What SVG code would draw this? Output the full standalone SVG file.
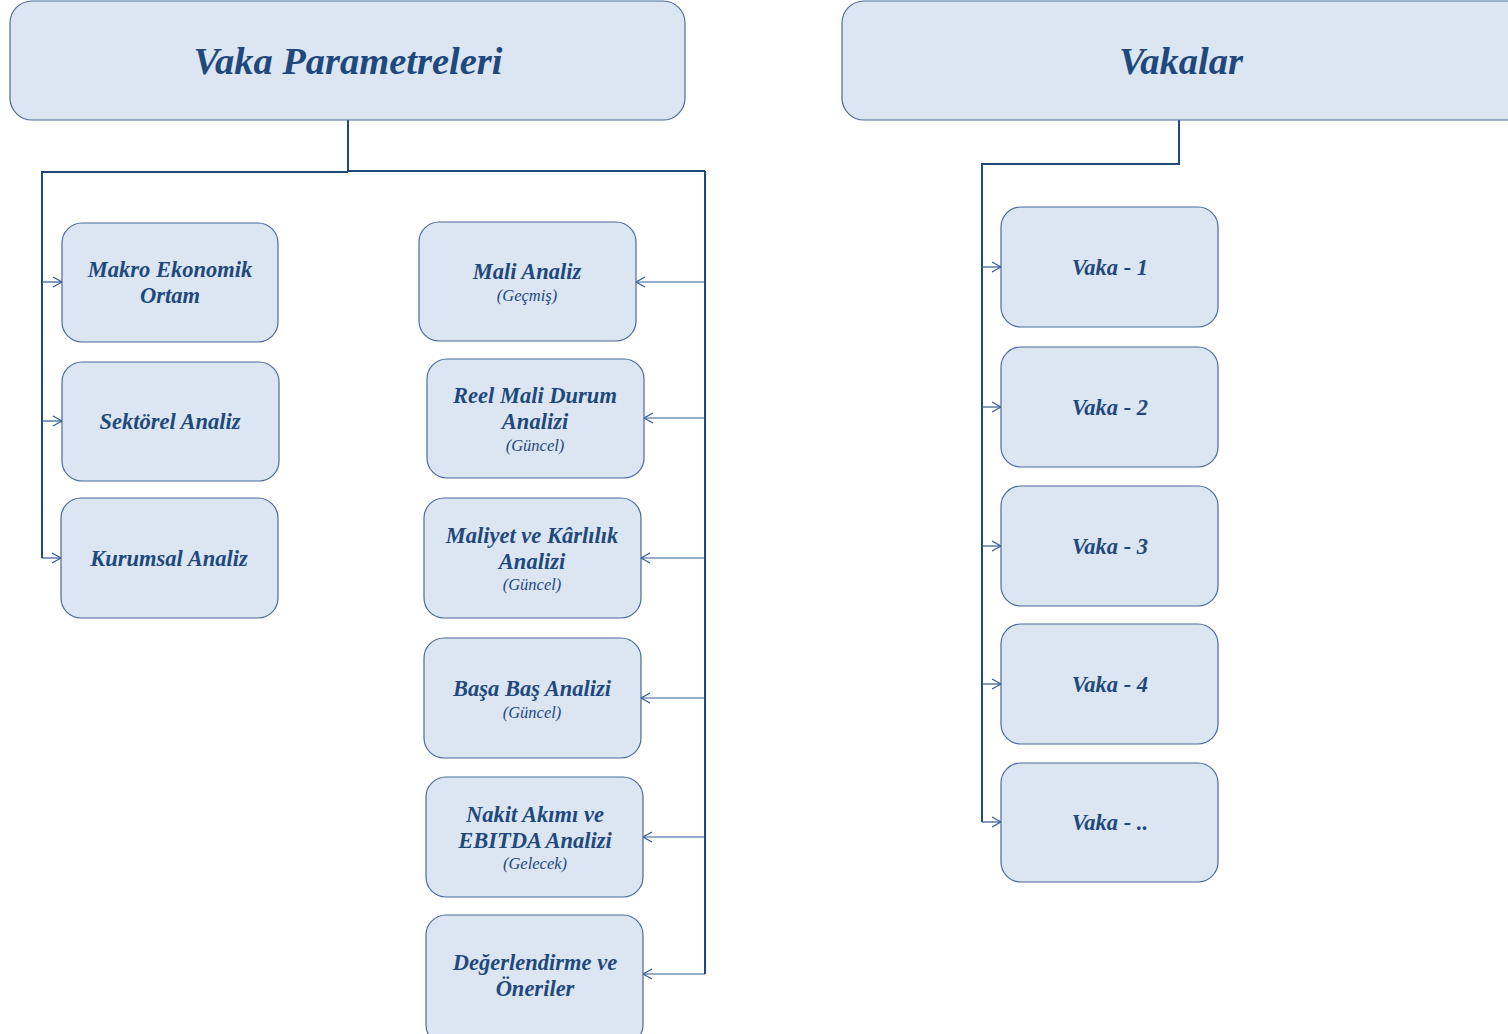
<svg xmlns="http://www.w3.org/2000/svg" width="1508" height="1034" viewBox="0 0 1508 1034">
<defs>
<style>
.box{fill:#dce6f2;stroke:#4a6b9c;stroke-width:1.2}
.t{font-family:"Liberation Serif","DejaVu Serif",serif;font-weight:bold;font-style:italic;fill:#1f497d;text-anchor:middle}
.h{font-size:38.5px}
.m{font-size:22.5px}
.s{font-size:16.5px;font-weight:normal}
.trunk{stroke:#1f497d;stroke-width:2;fill:none}
.br{stroke:#2f5a92;stroke-width:1.2;fill:none}
</style>
<marker id="arr" markerWidth="12" markerHeight="12" refX="10" refY="6" orient="auto" markerUnits="userSpaceOnUse">
<path d="M1,1 L10,6 L1,11" fill="none" stroke="#2f5a92" stroke-width="1.2"/>
</marker>
</defs>
<g id="connectors">
<path class="trunk" d="M348,120 V171 M42,172 H348 M348,171 H705 M42,171 V558 M705,171 V974"/>
<path class="br" d="M42,282 H62" marker-end="url(#arr)"/>
<path class="br" d="M42,421 H62" marker-end="url(#arr)"/>
<path class="br" d="M42,558 H61" marker-end="url(#arr)"/>
<path class="br" d="M705,282 H636" marker-end="url(#arr)"/>
<path class="br" d="M705,418 H644" marker-end="url(#arr)"/>
<path class="br" d="M705,558 H641" marker-end="url(#arr)"/>
<path class="br" d="M705,698 H641" marker-end="url(#arr)"/>
<path class="br" d="M705,837 H643" marker-end="url(#arr)"/>
<path class="br" d="M705,974 H643" marker-end="url(#arr)"/>
<path class="trunk" d="M1179,120 V164 H982 V822"/>
<path class="br" d="M982,267 H1001" marker-end="url(#arr)"/>
<path class="br" d="M982,407 H1001" marker-end="url(#arr)"/>
<path class="br" d="M982,546 H1001" marker-end="url(#arr)"/>
<path class="br" d="M982,684 H1001" marker-end="url(#arr)"/>
<path class="br" d="M982,822 H1001" marker-end="url(#arr)"/>
</g>
<g id="vaka-parametreleri"><rect class="box" x="10" y="1" width="675" height="119" rx="22"/><text class="t h" x="348" y="74">Vaka Parametreleri</text></g>
<g id="vakalar"><rect class="box" x="842" y="1" width="690" height="119" rx="22"/><text class="t h" x="1181" y="74">Vakalar</text></g>
<g id="makro"><rect class="box" x="62" y="223" width="216" height="119" rx="20"/><text class="t m" x="170" y="277">Makro Ekonomik</text><text class="t m" x="170" y="303">Ortam</text></g>
<g id="sektorel"><rect class="box" x="62" y="362" width="217" height="119" rx="20"/><text class="t m" x="170" y="429">Sektörel Analiz</text></g>
<g id="kurumsal"><rect class="box" x="61" y="498" width="217" height="120" rx="20"/><text class="t m" x="169" y="566">Kurumsal Analiz</text></g>
<g id="mali"><rect class="box" x="419" y="222" width="217" height="119" rx="20"/><text class="t m" x="527" y="279">Mali Analiz</text><text class="t s" x="527" y="301">(Geçmiş)</text></g>
<g id="reel"><rect class="box" x="427" y="359" width="217" height="119" rx="20"/><text class="t m" x="535" y="403">Reel Mali Durum</text><text class="t m" x="535" y="429">Analizi</text><text class="t s" x="535" y="451">(Güncel)</text></g>
<g id="maliyet"><rect class="box" x="424" y="498" width="217" height="120" rx="20"/><text class="t m" x="532" y="543">Maliyet ve Kârlılık</text><text class="t m" x="532" y="569">Analizi</text><text class="t s" x="532" y="590">(Güncel)</text></g>
<g id="basa"><rect class="box" x="424" y="638" width="217" height="120" rx="20"/><text class="t m" x="532" y="696">Başa Baş Analizi</text><text class="t s" x="532" y="718">(Güncel)</text></g>
<g id="nakit"><rect class="box" x="426" y="777" width="217" height="120" rx="20"/><text class="t m" x="535" y="822">Nakit Akımı ve</text><text class="t m" x="535" y="848">EBITDA Analizi</text><text class="t s" x="535" y="869">(Gelecek)</text></g>
<g id="degerlendirme"><rect class="box" x="426" y="915" width="217" height="130" rx="20"/><text class="t m" x="535" y="970">Değerlendirme ve</text><text class="t m" x="535" y="996">Öneriler</text></g>
<g id="vaka1"><rect class="box" x="1001" y="207" width="217" height="120" rx="20"/><text class="t m" x="1110" y="275">Vaka - 1</text></g>
<g id="vaka2"><rect class="box" x="1001" y="347" width="217" height="120" rx="20"/><text class="t m" x="1110" y="415">Vaka - 2</text></g>
<g id="vaka3"><rect class="box" x="1001" y="486" width="217" height="120" rx="20"/><text class="t m" x="1110" y="554">Vaka - 3</text></g>
<g id="vaka4"><rect class="box" x="1001" y="624" width="217" height="120" rx="20"/><text class="t m" x="1110" y="692">Vaka - 4</text></g>
<g id="vaka5"><rect class="box" x="1001" y="763" width="217" height="119" rx="20"/><text class="t m" x="1110" y="830">Vaka - ..</text></g>
</svg>
